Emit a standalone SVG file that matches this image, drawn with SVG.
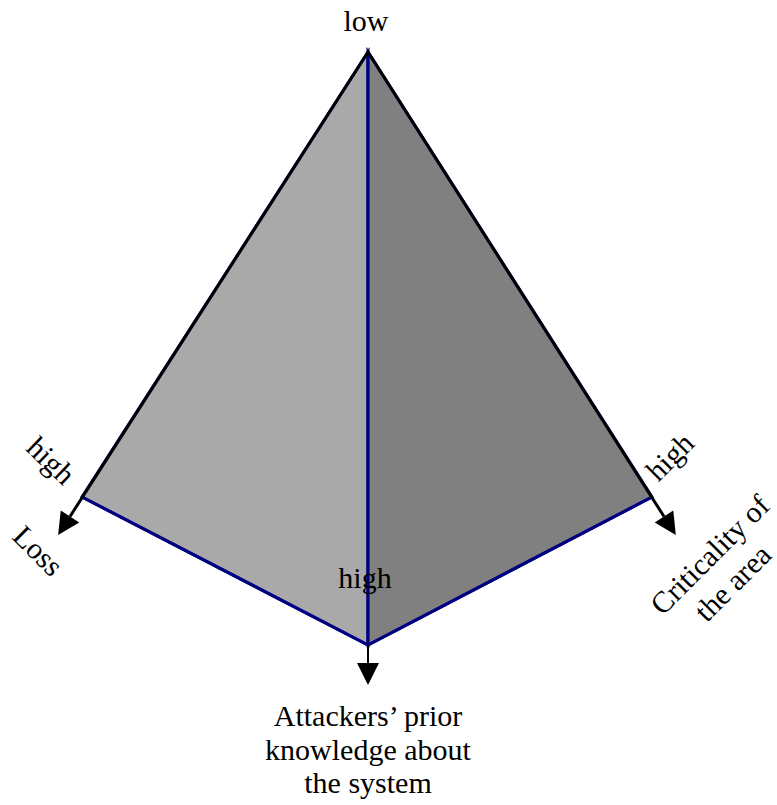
<svg xmlns="http://www.w3.org/2000/svg" width="777" height="805" viewBox="0 0 777 805">
<style>
text{font-family:"Liberation Serif","Times New Roman",serif;font-size:30px;fill:#000}
.axis{fill:none;stroke:#000;stroke-width:3;stroke-linejoin:miter}
.edge{fill:none;stroke:#000080;stroke-width:3;stroke-linejoin:round}
</style>
<defs>
<marker id="ah" viewBox="0 -11 22 22" markerWidth="22" markerHeight="22" refX="0" refY="0" markerUnits="userSpaceOnUse" orient="auto-start-reverse" overflow="visible">
<path d="M0,-11 L22,0 L0,11 z" fill="#000"/>
</marker>
</defs>
<rect width="777" height="805" fill="#fff"/>
<g id="left-face"><polygon points="368,52 82,497 368,645" fill="#a9a9a9" stroke="#000080" stroke-width="3"/></g>
<g id="right-face"><polygon points="368,52 368,645 652,497" fill="#808080" stroke="#000080" stroke-width="3"/></g>
<g id="connectors">
<polyline class="edge" points="82,497 368,645 652,497"/>
<line x1="368" y1="52" x2="368" y2="645" stroke="#000080" stroke-width="2.5"/>
<path class="axis" d="M70,516.5 L368,52 L664,516.5" marker-start="url(#ah)" marker-end="url(#ah)"/>
<line x1="368" y1="645" x2="368" y2="663" stroke="#000" stroke-width="2" marker-end="url(#ah)"/>
</g>
<g id="labels">
<text x="366" y="31" text-anchor="middle">low</text>
<text x="365" y="588" text-anchor="middle">high</text>
<text transform="translate(44,468) rotate(44)" text-anchor="middle">high</text>
<text transform="translate(31,558) rotate(45)" text-anchor="middle">Loss</text>
<text transform="translate(677,464) rotate(-45)" text-anchor="middle">high</text>
<text transform="translate(717,562) rotate(-45)" text-anchor="middle">Criticality of</text>
<text transform="translate(740,590) rotate(-45)" text-anchor="middle">the area</text>
<text x="368" y="726" text-anchor="middle">Attackers’ prior</text>
<text x="368" y="760" text-anchor="middle">knowledge about</text>
<text x="368" y="793" text-anchor="middle">the system</text>
</g>
</svg>
